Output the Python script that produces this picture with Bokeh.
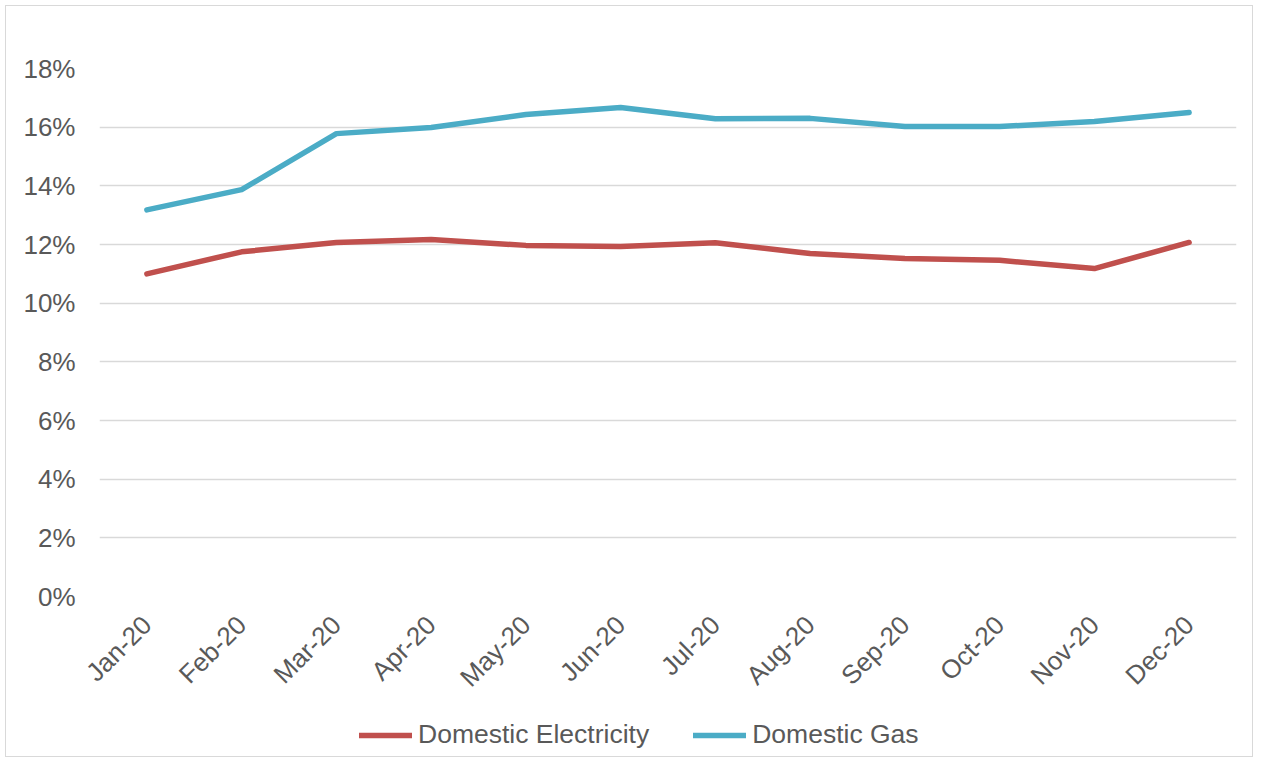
from bokeh.plotting import figure
from bokeh.layouts import column
from bokeh.models import FactorRange, Range1d, FixedTicker, PrintfTickFormatter, Legend, LegendItem
from bokeh.embed import file_html
from bokeh.resources import INLINE
from math import pi

months = ["Jan-20", "Feb-20", "Mar-20", "Apr-20", "May-20", "Jun-20",
          "Jul-20", "Aug-20", "Sep-20", "Oct-20", "Nov-20", "Dec-20"]
electricity = [11.0, 11.75, 12.07, 12.17, 11.97, 11.93, 12.06, 11.69, 11.52, 11.46, 11.18, 12.07]
gas = [13.18, 13.87, 15.78, 15.99, 16.43, 16.67, 16.29, 16.30, 16.02, 16.02, 16.19, 16.50]
y_ticks = [0, 2, 4, 6, 8, 10, 12, 14, 16, 18]
series_names = ["Domestic Electricity", "Domestic Gas"]
series_colors = ["#c0504d", "#4bacc6"]

FONT = "Liberation Sans"
TXT = "#595959"

p = figure(width=1246, height=700, output_backend="svg", toolbar_location=None,
           x_range=FactorRange(*months, range_padding=0),
           y_range=Range1d(0, 18),
           min_border_left=93, min_border_right=16, min_border_top=62, min_border_bottom=110)
p.outline_line_color = None
p.background_fill_color = "white"
p.border_fill_color = "white"

p.line(months, electricity, line_color=series_colors[0], line_width=5.5, line_cap="round", line_join="round")
p.line(months, gas, line_color=series_colors[1], line_width=5.5, line_cap="round", line_join="round")

p.xgrid.grid_line_color = None
p.ygrid.grid_line_color = "#d9d9d9"
p.ygrid.grid_line_width = 1.3

p.yaxis.ticker = FixedTicker(ticks=y_ticks)
p.yaxis.formatter = PrintfTickFormatter(format="%d%%")
for ax in (p.xaxis, p.yaxis):
    ax.axis_line_color = None
    ax.major_tick_line_color = None
    ax.minor_tick_line_color = None
    ax.major_tick_out = 0
    ax.major_tick_in = 0
    ax.major_label_text_font = FONT
    ax.major_label_text_font_size = "26px"
    ax.major_label_text_color = TXT
p.yaxis.major_label_standoff = 24
p.xaxis.major_label_orientation = pi / 4
p.xaxis.major_label_standoff = 24

# legend strip below the chart (its frame is aligned with the chart's frame)
lg = figure(width=1246, height=50, output_backend="svg", toolbar_location=None,
            x_range=Range1d(0, 1), y_range=Range1d(0, 1),
            x_axis_type=None, y_axis_type=None, min_border=0)
lg.outline_line_color = None
lg.grid.visible = False
items = []
for name, col in zip(series_names, series_colors):
    r = lg.line([-5, -4], [-5, -4], line_color=col, line_width=5.5, line_cap="round")
    items.append(LegendItem(label=name, renderers=[r]))
legend = Legend(items=items, orientation="horizontal", location=(260, 6),
                glyph_width=53, glyph_height=30, label_height=30, label_standoff=6,
                spacing=44, padding=0, margin=0,
                border_line_color=None, background_fill_alpha=0,
                label_text_font=FONT, label_text_font_size="26.5px", label_text_color=TXT)
lg.add_layout(legend, "center")

layout = column(p, lg, spacing=0)
layout.styles = {"border": "1px solid #d9d9d9", "margin-left": "5px", "margin-top": "5px"}

open("out.html", "w").write(file_html(layout, INLINE))
